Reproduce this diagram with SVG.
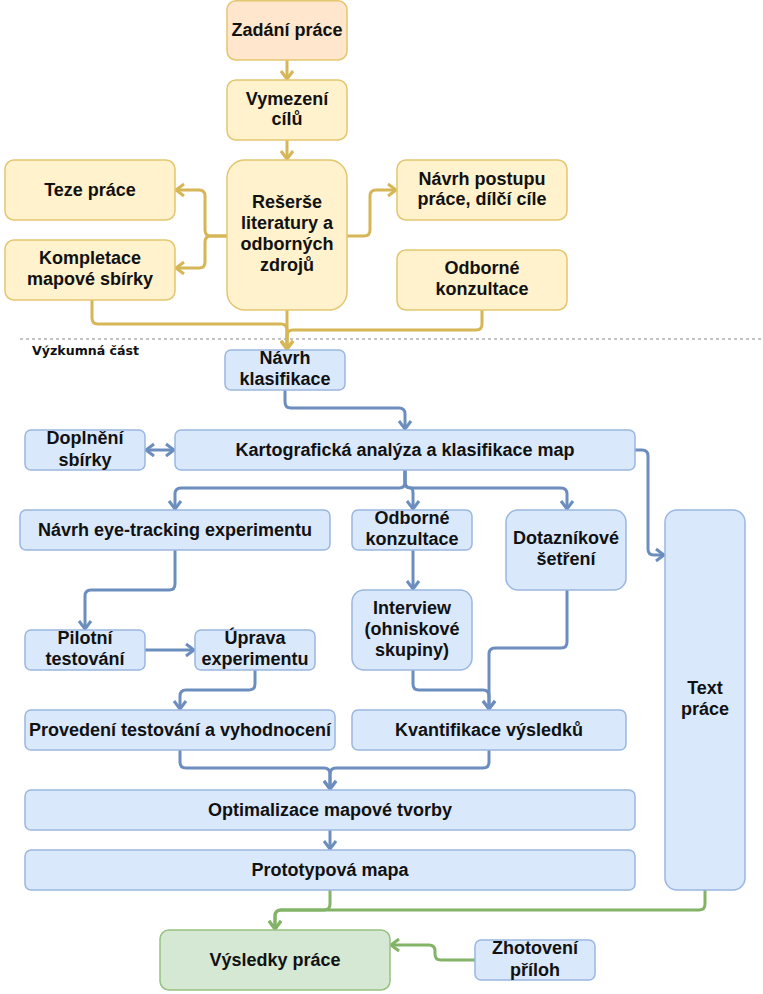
<svg xmlns="http://www.w3.org/2000/svg" width="763" height="994" viewBox="0 0 763 994">
<defs>
<style>
.t{font-family:"Liberation Sans",Arial,sans-serif;font-size:18px;font-weight:bold;fill:#111;text-anchor:middle}
.y{fill:#fff2cc;stroke:#e3c66e;stroke-width:1.5}
.o{fill:#ffe6cc;stroke:#e3c66e;stroke-width:1.5}
.b{fill:#dae8fc;stroke:#9ab7e0;stroke-width:1.5}
.g{fill:#d5e8d4;stroke:#97c180;stroke-width:1.5}
.cy{fill:none;stroke:#d6b656;stroke-width:3;marker-end:url(#ay)}
.cb{fill:none;stroke:#6c8ebf;stroke-width:3;marker-end:url(#ab)}
.cg{fill:none;stroke:#82b366;stroke-width:3;marker-end:url(#ag)}
</style>
<marker id="ay" markerUnits="userSpaceOnUse" markerWidth="14" markerHeight="16" refX="10" refY="7" orient="auto" overflow="visible"><path d="M2,1 L10,7 L2,13" fill="none" stroke="#d6b656" stroke-width="3"/></marker>
<marker id="ab" markerUnits="userSpaceOnUse" markerWidth="14" markerHeight="16" refX="10" refY="7" orient="auto" overflow="visible"><path d="M2,1 L10,7 L2,13" fill="none" stroke="#6c8ebf" stroke-width="3"/></marker>
<marker id="abs" markerUnits="userSpaceOnUse" markerWidth="14" markerHeight="16" refX="10" refY="7" orient="auto-start-reverse" overflow="visible"><path d="M2,1 L10,7 L2,13" fill="none" stroke="#6c8ebf" stroke-width="3"/></marker>
<marker id="ag" markerUnits="userSpaceOnUse" markerWidth="14" markerHeight="16" refX="10" refY="7" orient="auto" overflow="visible"><path d="M2,1 L10,7 L2,13" fill="none" stroke="#82b366" stroke-width="3"/></marker>
</defs>
<rect width="763" height="994" fill="#ffffff"/>
<line x1="20" y1="339" x2="763" y2="339" stroke="#8a8a8a" stroke-width="1" stroke-dasharray="3 3"/>
<text x="32" y="355" font-family="DejaVu Sans,Verdana,sans-serif" font-size="12.6" font-weight="bold" fill="#111">Výzkumná část</text>
<g id="connectors">
<path class="cy" d="M287,60 L287,79"/>
<path class="cy" d="M287,140 L287,159"/>
<path class="cy" d="M227,236 L211,236 Q205,236 205,230 L205,196 Q205,190 199,190 L176,190"/>
<path class="cy" d="M227,236 L211,236 Q205,236 205,242 L205,262 Q205,268 199,268 L176,268"/>
<path class="cy" d="M347,236 L364,236 Q370,236 370,230 L370,196 Q370,190 376,190 L396,190"/>
<path class="cy" d="M287,310 L287,349"/>
<path class="cy" d="M92,300 L92,318 Q92,324 98,324 L281,324 Q287,324 287,330 L287,349"/>
<path class="cy" d="M482,310 L482,324 Q482,330 476,330 L293,330 Q287,330 287,336 L287,349"/>
<path class="cb" d="M285,390 L285,402 Q285,408 291,408 L399,408 Q405,408 405,414 L405,429"/>
<path class="cb" d="M146,450 L174,450" marker-start="url(#abs)" marker-end="url(#abs)"/>
<path class="cb" d="M405,470 L405,482 Q405,488 399,488 L181,488 Q175,488 175,494 L175,509"/>
<path class="cb" d="M405,470 L405,482 Q405,488 411,488 Q413,488 413,494 L413,509"/>
<path class="cb" d="M405,470 L405,482 Q405,488 411,488 L561,488 Q567,488 567,494 L567,509"/>
<path class="cb" d="M635,450 L642,450 Q648,450 648,456 L648,549 Q648,555 654,555 L664,555"/>
<path class="cb" d="M175,550 L175,584 Q175,590 169,590 L91,590 Q85,590 85,596 L85,629"/>
<path class="cb" d="M145,650 L194,650"/>
<path class="cb" d="M255,670 L255,684 Q255,690 249,690 L186,690 Q180,690 180,696 L180,709"/>
<path class="cb" d="M413,550 L413,589"/>
<path class="cb" d="M413,670 L413,684 Q413,690 419,690 L483,690 Q489,690 489,696 L489,709"/>
<path class="cb" d="M567,590 L567,642 Q567,648 561,648 L495,648 Q489,648 489,654 L489,709"/>
<path class="cb" d="M180,750 L180,762 Q180,768 186,768 L324,768 Q330,768 330,774 L330,789"/>
<path class="cb" d="M489,750 L489,762 Q489,768 483,768 L336,768 Q330,768 330,774 L330,789"/>
<path class="cb" d="M330,830 L330,849"/>
<path class="cg" d="M330,890 L330,904 Q330,910 324,910 L281,910 Q275,910 275,916 L275,929"/>
<path class="cg" d="M705,890 L705,904 Q705,910 699,910 L281,910 Q275,910 275,916 L275,929"/>
<path class="cg" d="M475,960 L441,960 Q435,960 435,954 L435,951 Q435,945 429,945 L391,945"/>
</g>
<g id="zadani"><rect class="o" x="227" y="0.75" width="120" height="59.25" rx="9"/><text class="t" x="287" y="36">Zadání práce</text></g>
<g id="vymezeni"><rect class="y" x="227" y="80" width="120" height="60" rx="9"/><text class="t" x="287" y="105">Vymezení</text><text class="t" x="287" y="125">cílů</text></g>
<g id="reserse"><rect class="y" x="227" y="160" width="120" height="150" rx="18"/><text class="t" x="287" y="208">Rešerše</text><text class="t" x="287" y="229">literatury a</text><text class="t" x="287" y="250">odborných</text><text class="t" x="287" y="271">zdrojů</text></g>
<g id="teze"><rect class="y" x="5" y="160" width="170" height="60" rx="9"/><text class="t" x="90" y="196">Teze práce</text></g>
<g id="kompletace"><rect class="y" x="5" y="240" width="170" height="60" rx="9"/><text class="t" x="90" y="264">Kompletace</text><text class="t" x="90" y="285">mapové sbírky</text></g>
<g id="navrh-postupu"><rect class="y" x="397" y="160" width="170" height="60" rx="9"/><text class="t" x="482" y="185">Návrh postupu</text><text class="t" x="482" y="205">práce, dílčí cíle</text></g>
<g id="odborne-konzultace-1"><rect class="y" x="397" y="250" width="170" height="60" rx="9"/><text class="t" x="482" y="274">Odborné</text><text class="t" x="482" y="295">konzultace</text></g>
<g id="navrh-klasifikace"><rect class="b" x="225" y="350" width="120" height="40" rx="6"/><text class="t" x="285" y="364">Návrh</text><text class="t" x="285" y="385">klasifikace</text></g>
<g id="doplneni"><rect class="b" x="25" y="430" width="120" height="40" rx="6"/><text class="t" x="85" y="444">Doplnění</text><text class="t" x="85" y="466">sbírky</text></g>
<g id="kartograficka"><rect class="b" x="175" y="430" width="460" height="40" rx="6"/><text class="t" x="405" y="456">Kartografická analýza a klasifikace map</text></g>
<g id="eye-tracking"><rect class="b" x="20" y="510" width="310" height="40" rx="6"/><text class="t" x="175" y="536">Návrh eye-tracking experimentu</text></g>
<g id="odborne-konzultace-2"><rect class="b" x="352" y="510" width="120" height="40" rx="6"/><text class="t" x="412" y="524">Odborné</text><text class="t" x="412" y="545">konzultace</text></g>
<g id="dotaznikove"><rect class="b" x="506" y="510" width="120" height="80" rx="12"/><text class="t" x="566" y="544">Dotazníkové</text><text class="t" x="566" y="565">šetření</text></g>
<g id="text-prace"><rect class="b" x="665" y="510" width="80" height="380" rx="12"/><text class="t" x="705" y="694">Text</text><text class="t" x="705" y="715">práce</text></g>
<g id="interview"><rect class="b" x="352" y="590" width="120" height="80" rx="12"/><text class="t" x="412" y="614">Interview</text><text class="t" x="412" y="635">(ohniskové</text><text class="t" x="412" y="656">skupiny)</text></g>
<g id="pilotni"><rect class="b" x="25" y="630" width="120" height="40" rx="6"/><text class="t" x="85" y="644">Pilotní</text><text class="t" x="85" y="665">testování</text></g>
<g id="uprava"><rect class="b" x="195" y="630" width="120" height="40" rx="6"/><text class="t" x="255" y="644">Úprava</text><text class="t" x="255" y="665">experimentu</text></g>
<g id="provedeni"><rect class="b" x="25" y="710" width="310" height="40" rx="6"/><text class="t" x="180" y="736">Provedení testování a vyhodnocení</text></g>
<g id="kvantifikace"><rect class="b" x="352" y="710" width="274" height="40" rx="6"/><text class="t" x="489" y="736">Kvantifikace výsledků</text></g>
<g id="optimalizace"><rect class="b" x="25" y="790" width="610" height="40" rx="6"/><text class="t" x="330" y="816">Optimalizace mapové tvorby</text></g>
<g id="prototypova"><rect class="b" x="25" y="850" width="610" height="40" rx="6"/><text class="t" x="330" y="876">Prototypová mapa</text></g>
<g id="vysledky"><rect class="g" x="160" y="930" width="230" height="60" rx="9"/><text class="t" x="275" y="966">Výsledky práce</text></g>
<g id="zhotoveni"><rect class="b" x="475" y="940" width="120" height="40" rx="6"/><text class="t" x="535" y="954">Zhotovení</text><text class="t" x="535" y="976">příloh</text></g>
</svg>
